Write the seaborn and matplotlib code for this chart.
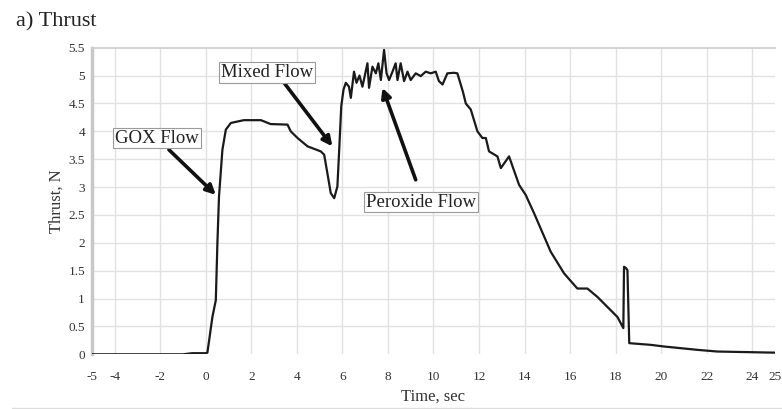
import matplotlib
matplotlib.use("Agg")
import matplotlib.pyplot as plt
from matplotlib.lines import Line2D
import seaborn as sns

# thrust trace
time_s = [-5.0, -1.0, -0.6, 0.0, 0.07, 0.15, 0.29, 0.44, 0.51, 0.58, 0.73, 0.88,
          1.1, 1.67, 2.42, 2.85, 3.59, 3.73, 4.03, 4.47, 5.05, 5.2, 5.34, 5.49,
          5.64, 5.78, 5.86, 5.95, 6.05, 6.15, 6.29, 6.37, 6.51, 6.62, 6.75, 6.88,
          7.1, 7.17, 7.32, 7.47, 7.58, 7.69, 7.83, 7.94, 8.05, 8.2, 8.34, 8.42,
          8.56, 8.71, 8.86, 9.0, 9.22, 9.44, 9.66, 9.88, 10.1, 10.24, 10.4, 10.61,
          10.9, 11.05, 11.3, 11.42, 11.64, 11.93, 12.15, 12.3, 12.44, 12.81, 12.96,
          13.32, 13.76, 14.05, 14.42, 15.15, 15.74, 16.32, 16.76, 17.2, 18.08,
          18.34, 18.37, 18.45, 18.52, 18.6, 19.54, 20.13, 21.6, 22.47, 24.96, 25.0]
thrust_n = [0.0, 0.0, 0.02, 0.02, 0.03, 0.26, 0.67, 0.97, 2.0, 2.83, 3.67, 4.03,
            4.15, 4.2, 4.2, 4.13, 4.12, 4.0, 3.88, 3.73, 3.64, 3.58, 3.25, 2.89,
            2.8, 3.01, 3.67, 4.45, 4.75, 4.87, 4.8, 4.6, 5.07, 4.87, 5.0, 4.8,
            5.22, 4.78, 5.16, 5.04, 5.22, 4.92, 5.46, 5.04, 4.92, 5.07, 5.22, 4.92,
            5.22, 4.9, 5.07, 4.92, 5.04, 4.99, 5.07, 5.04, 5.07, 4.9, 4.84, 5.04,
            5.05, 5.04, 4.7, 4.5, 4.39, 4.0, 3.88, 3.88, 3.64, 3.55, 3.34,
            3.55, 3.04, 2.86, 2.53, 1.84, 1.45, 1.18, 1.18, 1.03, 0.67,
            0.47, 1.57, 1.55, 1.51, 0.2, 0.17, 0.14, 0.08, 0.05, 0.03, 0.03]

x_ticks = [-5, -4, -2, 0, 2, 4, 6, 8, 10, 12, 14, 16, 18, 20, 22, 24, 25]
y_ticks = [0, 0.5, 1, 1.5, 2, 2.5, 3, 3.5, 4, 4.5, 5, 5.5]
y_labels = ["0", "0.5", "1", "1.5", "2", "2.5", "3", "3.5", "4", "4.5", "5", "5.5"]

# label, text position, arrow tail, arrow head
notes = [
    ("GOX Flow", (-2.15, 3.88), (-1.62, 3.67), (0.44, 2.86)),
    ("Mixed Flow", (2.68, 5.06), (3.44, 4.87), (5.56, 3.73)),
    ("Peroxide Flow", (9.44, 2.73), (9.22, 3.13), (7.76, 4.78)),
]

sns.set_style("white")
plt.rcParams["font.family"] = ["Liberation Serif", "DejaVu Serif"]
plt.rcParams["axes.unicode_minus"] = False

fig = plt.figure(figsize=(7.82, 4.09), dpi=100)
ax = fig.add_axes([0.1176, 0.1337, 0.8734, 0.7497])

sns.lineplot(x=time_s, y=thrust_n, sort=False, estimator=None, color="#1a1a1a",
             linewidth=1.6, ax=ax, zorder=3)

ax.set_xlim(-5, 25)
ax.set_ylim(0, 5.5)
ax.set_xticks(x_ticks)
ax.set_yticks(y_ticks)
ax.set_yticklabels(y_labels)
ax.tick_params(axis="both", labelsize=9.5, colors="#333333", direction="out")
ax.tick_params(axis="x", length=5, width=0.9, pad=1)
ax.tick_params(axis="y", length=4, width=0.9, pad=1)

for v in range(-4, 25, 2):
    ax.axvline(v, color="#e2e2e2", lw=1, zorder=0)
for h in y_ticks[1:-1]:
    ax.axhline(h, color="#e2e2e2", lw=1, zorder=0)

ax.spines["right"].set_visible(False)
ax.spines["bottom"].set_position(("outward", 6))
ax.spines["bottom"].set_visible(False)
ax.spines["left"].set_color("#c8c8c8")
ax.spines["left"].set_linewidth(2.5)
ax.spines["top"].set_color("#cccccc")
ax.spines["top"].set_linewidth(1.2)

ax.set_xlabel("Time, sec", fontsize=12, color="#333333", labelpad=4)
ax.set_ylabel("Thrust, N", fontsize=12, color="#333333", labelpad=3)

for label, txt, tail, head in notes:
    ax.annotate("", xy=head, xytext=tail,
                arrowprops=dict(arrowstyle="-|>", lw=2.6, color="#111111",
                                mutation_scale=14, shrinkA=0, shrinkB=0),
                zorder=4)
    ax.text(txt[0], txt[1], label, fontsize=13.5, color="#222222",
            ha="center", va="center", zorder=5,
            bbox=dict(boxstyle="square,pad=0.1", fc="white", ec="#9a9a9a", lw=0.8))

fig.text(0.02, 0.947, "a) Thrust", fontsize=16, color="#222222", va="center", ha="left")
fig.add_artist(Line2D([0.015, 1.0], [0.003, 0.003], color="#dddddd", lw=1))

fig.savefig("out.png", dpi=100)
